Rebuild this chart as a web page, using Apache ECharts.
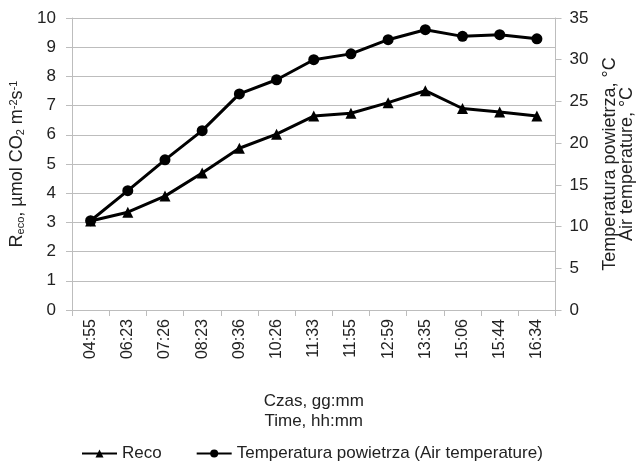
<!DOCTYPE html>
<html><head><meta charset="utf-8">
<script src="https://cdn.jsdelivr.net/npm/echarts@6/dist/echarts.min.js"></script>
<style>html,body{margin:0;padding:0;background:#fff}#c{width:644px;height:463px}</style>
</head><body><div id="c"></div>
<script>
const categories = ["04:55","06:23","07:26","08:23","09:36","10:26","11:33","11:55","12:59","13:35","15:06","15:44","16:34"];
const reco = [3.05,3.35,3.9,4.69,5.54,6.02,6.64,6.74,7.1,7.51,6.9,6.78,6.64];
const airTemp = [10.7,14.3,18.0,21.5,25.9,27.6,30.0,30.7,32.4,33.6,32.8,33.0,32.5];
const leftTicks = {min:0,max:10,interval:1};
const rightTicks = {min:0,max:35,interval:5};

const font = 'Liberation Sans, Arial, sans-serif';
const txt = '#222';
const gray = '#bdbdbd';
const chart = echarts.init(document.getElementById('c'));
chart.setOption({
  animation:false,
  backgroundColor:'#fff',
  textStyle:{fontFamily:font,color:txt},
  grid:{left:72,right:82,top:18,bottom:153,containLabel:false},
  legend:{
    top:440,left:76,itemWidth:35,itemHeight:10,itemGap:34,
    textStyle:{fontFamily:font,fontSize:17,color:txt},
    data:['Reco','Temperatura powietrza (Air temperature)']
  },
  xAxis:{
    type:'category',data:categories,boundaryGap:true,
    axisLine:{lineStyle:{color:gray,width:1}},
    axisTick:{show:true,alignWithLabel:false,length:6,lineStyle:{color:gray}},
    axisLabel:{rotate:90,fontSize:16,color:txt,fontFamily:font,margin:9,interval:0},
    name:'Czas, gg:mm\nTime, hh:mm',nameLocation:'middle',nameGap:81,
    nameTextStyle:{fontSize:17,color:txt,fontFamily:font,lineHeight:20,verticalAlign:'top'}
  },
  yAxis:[{
    type:'value',min:leftTicks.min,max:leftTicks.max,interval:leftTicks.interval,
    axisLine:{show:true,lineStyle:{color:gray}},
    axisTick:{show:true,length:6,lineStyle:{color:gray}},
    splitLine:{lineStyle:{color:gray,width:1.2}},
    axisLabel:{fontSize:17,color:txt,fontFamily:font,margin:16},
    name:'{n|R}{s|eco}{n|, µmol CO}{s|2}{n| m}{p|-2}{n|s}{p|-1}',
    nameLocation:'middle',nameRotate:90,nameGap:42,
    nameTextStyle:{rich:{
      n:{fontSize:18,color:txt,fontFamily:font},
      s:{fontSize:11,color:txt,fontFamily:font,verticalAlign:'bottom',padding:[7,0,0,0]},
      p:{fontSize:11,color:txt,fontFamily:font,verticalAlign:'top',padding:[0,0,7,0]}
    }}
  },{
    type:'value',position:'right',min:rightTicks.min,max:rightTicks.max,interval:rightTicks.interval,
    axisLine:{show:true,lineStyle:{color:gray}},
    axisTick:{show:true,length:6,lineStyle:{color:gray}},
    splitLine:{show:false},
    axisLabel:{fontSize:17,color:txt,fontFamily:font,margin:14},
    name:'Temperatura powietrza, °C\nAir temperature, °C',
    nameLocation:'middle',nameRotate:90,nameGap:46,
    nameTextStyle:{fontSize:18,color:txt,fontFamily:font,lineHeight:17}
  }],
  series:[{
    name:'Reco',type:'line',yAxisIndex:0,data:reco,
    symbol:'triangle',symbolSize:11,
    lineStyle:{color:'#000',width:3},itemStyle:{color:'#000'}
  },{
    name:'Temperatura powietrza (Air temperature)',type:'line',yAxisIndex:1,data:airTemp,
    symbol:'circle',symbolSize:11,
    lineStyle:{color:'#000',width:3},itemStyle:{color:'#000'}
  }]
});
</script></body></html>
